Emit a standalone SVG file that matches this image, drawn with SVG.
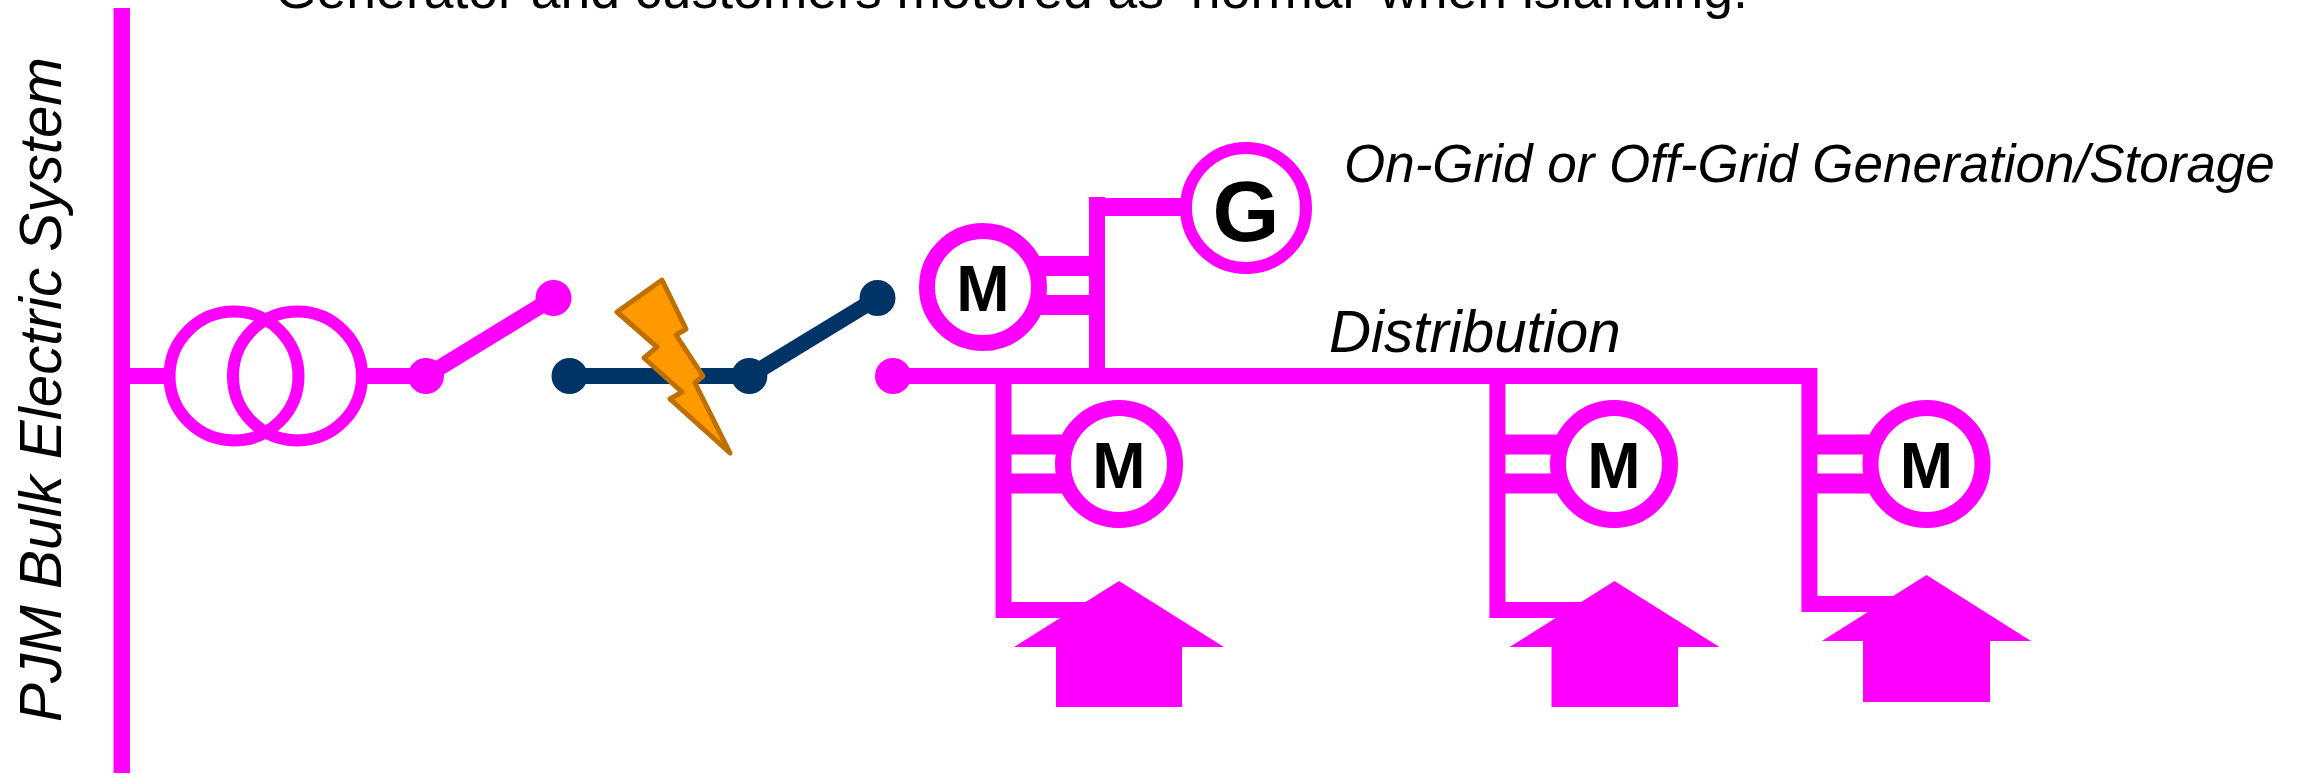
<svg xmlns="http://www.w3.org/2000/svg" width="2305" height="775" viewBox="0 0 2305 775">
<style>
.p{fill:#ff00ff}
.l{fill:none;stroke:#ff00ff;stroke-width:16}
.s{fill:none;stroke:#ff00ff;stroke-width:20}
.c{fill:#fff;stroke:#ff00ff}
.m{stroke-width:16}
.n{fill:#003366}
.t{font-family:"Liberation Sans",Arial,sans-serif;fill:#000}
.b{font-weight:700;text-anchor:middle}
.i{font-style:italic}
</style>
<rect width="2305" height="775" fill="#fff"/>
<g id="connectors">
<rect id="bulk-bus" class="p" x="113.500" y="8" width="16.500" height="765"/>
<path class="l" d="M130 376H165M367 376H426"/>
<path class="l" d="M426 376L553.500 298"/>
<path class="l" d="M893 376H1817"/>
<path class="l" d="M1809.400 368V604H1900"/>
<path class="l" d="M1097 376V197"/>
<path class="l" style="stroke-width:18" d="M1089 207H1185"/>
<path class="s" d="M1030 266H1097M1030 305H1097"/>
<path class="l" d="M1003.500 376V610H1100"/>
<path class="s" d="M1004 444.500H1075M1004 483.500H1075"/>
<path class="l" d="M1497.400 376V610H1590"/>
<path class="s" d="M1498 444.500H1570M1498 483.500H1570"/>
<path class="s" d="M1810 444.500H1880M1810 483.500H1880"/>
<path d="M569.500 376H749.400L877.500 298" fill="none" stroke="#003366" stroke-width="16"/>
</g>
<g id="transformer">
<circle cx="234" cy="376" r="64.500" fill="none" stroke="#ff00ff" stroke-width="12"/>
<circle cx="297.500" cy="376" r="64.500" fill="none" stroke="#ff00ff" stroke-width="12"/>
</g>
<g id="switch-1">
<circle class="p" cx="426" cy="376" r="18"/>
<circle class="p" cx="553.500" cy="298" r="18"/>
</g>
<g id="switch-2">
<circle class="n" cx="569.500" cy="376" r="18"/>
<circle class="n" cx="749.400" cy="376" r="18"/>
<circle class="n" cx="877.500" cy="298" r="18"/>
</g>
<g id="bus-end"><circle class="p" cx="893" cy="376" r="18"/></g>
<g id="fault">
<polygon points="662,280 617,312 657,347 644,358 682,392 670,399 730,453 695,383 703,376 676,335 686,329" fill="#ff9900" stroke="#bf6f00" stroke-width="5" stroke-linejoin="round"/>
</g>
<g id="generator">
<circle class="c" cx="1246" cy="208" r="60" stroke-width="12"/>
<text class="t b" x="1246" y="241" font-size="86">G</text>
</g>
<g id="motor-1">
<circle class="c m" cx="983" cy="287" r="56"/>
<text class="t b" x="983" y="311" font-size="64">M</text>
</g>
<g id="motor-2">
<circle class="c m" cx="1119" cy="464" r="56"/>
<text class="t b" x="1119" y="488" font-size="64">M</text>
</g>
<g id="motor-3">
<circle class="c m" cx="1614" cy="464" r="56"/>
<text class="t b" x="1614" y="488" font-size="64">M</text>
</g>
<g id="motor-4">
<circle class="c m" cx="1926.500" cy="464" r="56"/>
<text class="t b" x="1926.500" y="488" font-size="64">M</text>
</g>
<g id="load-1"><polygon class="p" points="1119,581 1224,647 1182,647 1182,707 1056,707 1056,647 1014,647"/></g>
<g id="load-2"><polygon class="p" points="1614.500,581 1719.500,647 1678,647 1678,707 1551.500,707 1551.500,647 1509.500,647"/></g>
<g id="load-3"><polygon class="p" points="1926.500,575 2031,641 1990,641 1990,702 1863,702 1863,641 1822,641"/></g>
<g id="labels">
<text class="t" x="275" y="8" font-size="53.500">Generator and customers motored as ‘normal’ when islanding.</text>
<text class="t i" x="1344" y="182" font-size="53">On-Grid or Off-Grid Generation/Storage</text>
<text class="t i" x="1329" y="352" font-size="58.300">Distribution</text>
<text class="t i" transform="translate(60.500 722) rotate(-90)" font-size="60" textLength="665" lengthAdjust="spacingAndGlyphs">PJM Bulk Electric System</text>
</g>
</svg>
